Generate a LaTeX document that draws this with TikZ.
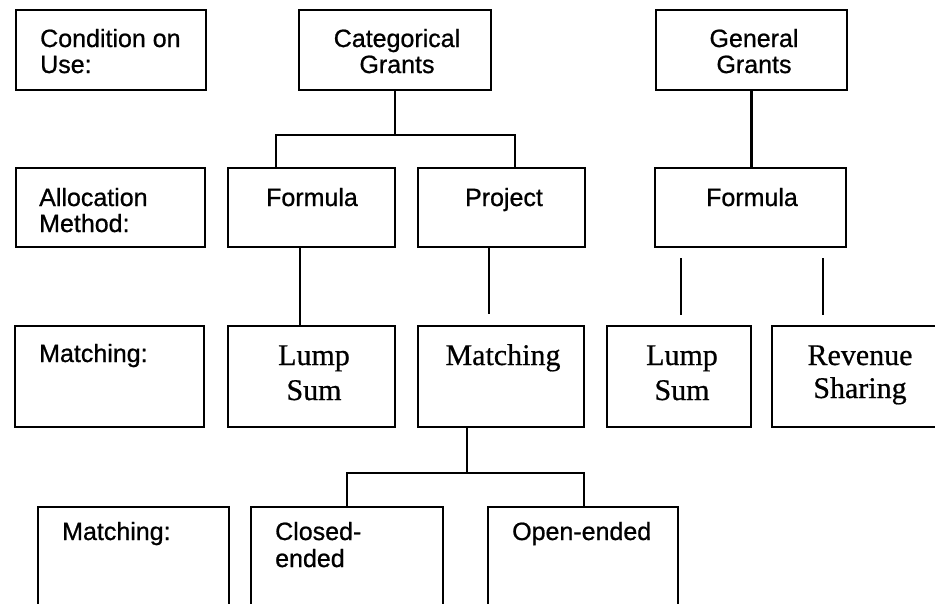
\documentclass[tikz,border=0pt]{standalone}
\usepackage{fontspec}
\setmainfont{Liberation Serif}[FakeBold=0.6]
\setsansfont{Liberation Sans}[FakeBold=0.8]
\begin{document}
\begin{tikzpicture}[x=1pt,y=-1pt,
  box/.style={draw, line width=2.6pt, inner sep=0pt, rectangle},
  ln/.style={line width=2.3pt},
  sf/.style={font=\sffamily\fontsize{25}{26}\selectfont, inner sep=0pt},
  rm/.style={font=\rmfamily\fontsize{30}{33}\selectfont, inner sep=0pt}]
\clip (0,0) rectangle (935,603);
\fill[white] (0,0) rectangle (935,603);
% row 1
\node[box, minimum width=190pt, minimum height=80pt] (cu) at (111,50) {};
\node[box, minimum width=192pt, minimum height=80pt] (cg) at (395,50) {};
\node[box, minimum width=191pt, minimum height=80pt] (gg) at (751.5,50) {};
% row 2
\node[box, minimum width=189pt, minimum height=79pt] (am) at (110.5,207.5) {};
\node[box, minimum width=167pt, minimum height=79pt] (f1) at (311.5,207.5) {};
\node[box, minimum width=167pt, minimum height=79pt] (pr) at (501.5,207.5) {};
\node[box, minimum width=191pt, minimum height=79pt] (f2) at (750.5,207.5) {};
% row 3
\node[box, minimum width=189pt, minimum height=101pt] (mt) at (109.5,376.5) {};
\node[box, minimum width=167pt, minimum height=101pt] (ls1) at (311.5,376.5) {};
\node[box, minimum width=166pt, minimum height=101pt] (mc) at (501,376.5) {};
\node[box, minimum width=144pt, minimum height=101pt] (ls2) at (679,376.5) {};
\node[box, minimum width=178pt, minimum height=101pt] (rs) at (861,376.5) {};
% row 4
\node[box, minimum width=191pt, minimum height=153pt] (m4) at (133.5,583.5) {};
\node[box, minimum width=192pt, minimum height=153pt] (ce) at (347,583.5) {};
\node[box, minimum width=190pt, minimum height=153pt] (oe) at (583,583.5) {};
% connectors
\coordinate (cgj) at ([yshift=-44pt]cg.south);
\draw[ln] (cg.south) -- (cgj);
\draw[ln] ([xshift=-35.5pt]f1.north) |- ([xshift=13.5pt]pr.north |- cgj) -- ([xshift=13.5pt]pr.north);
\draw[ln] (gg.south) -- (gg.south |- f2.north);
\draw[ln] ([xshift=-11.5pt]f1.south) -- ([xshift=-11.5pt]f1.south |- ls1.north);
\draw[ln, shorten >=11pt] ([xshift=-12.5pt]pr.south) -- ([xshift=-12.5pt]pr.south |- mc.north);
\draw[ln, shorten <=10pt, shorten >=10pt] ([xshift=-69.5pt]f2.south) -- ([xshift=-69.5pt]f2.south |- ls2.north);
\draw[ln, shorten <=10pt, shorten >=10pt] ([xshift=72.5pt]f2.south) -- ([xshift=72.5pt]f2.south |- rs.north);
\coordinate (mcj) at ([xshift=-34pt,yshift=-45pt]mc.south);
\draw[ln] ([xshift=-34pt]mc.south) -- (mcj);
\draw[ln] (ce.north) |- (mcj) -| ([xshift=1pt]oe.north);
% texts row 1
\node[sf, anchor=base west] (t1a) at (40,47) {Condition on};
\node[sf, anchor=base west] (t1b) at (40,73) {Use:};
\node[sf, anchor=base] (t2a) at (397,47) {Categorical};
\node[sf, anchor=base] (t2b) at (397,73) {Grants};
\node[sf, anchor=base] (t3a) at (754,47) {General};
\node[sf, anchor=base] (t3b) at (754,73) {Grants};
% row 2
\node[sf, anchor=base west] (t4a) at (39,206) {Allocation};
\node[sf, anchor=base west] (t4b) at (39,232) {Method:};
\node[sf, anchor=base] (t5) at (312,206) {Formula};
\node[sf, anchor=base] (t6) at (504,206) {Project};
\node[sf, anchor=base] (t7) at (752,206) {Formula};
% row 3
\node[sf, anchor=base west] (t8) at (39,362) {Matching:};
\node[rm, anchor=base] (t9a) at (314,365) {Lump};
\node[rm, anchor=base] (t9b) at (314,400) {Sum};
\node[rm, anchor=base] (t10) at (503,365) {Matching};
\node[rm, anchor=base] (t11a) at (682,365) {Lump};
\node[rm, anchor=base] (t11b) at (682,400) {Sum};
\node[rm, anchor=base] (t12a) at (860,365) {Revenue};
\node[rm, anchor=base] (t12b) at (860,398) {Sharing};
% row 4
\node[sf, anchor=base west] (t13) at (62,540) {Matching:};
\node[sf, anchor=base west] (t14a) at (275,540) {Closed-};
\node[sf, anchor=base west] (t14b) at (275,567) {ended};
\node[sf, anchor=base west] (t15) at (512,540) {Open-ended};
\end{tikzpicture}
\end{document}
